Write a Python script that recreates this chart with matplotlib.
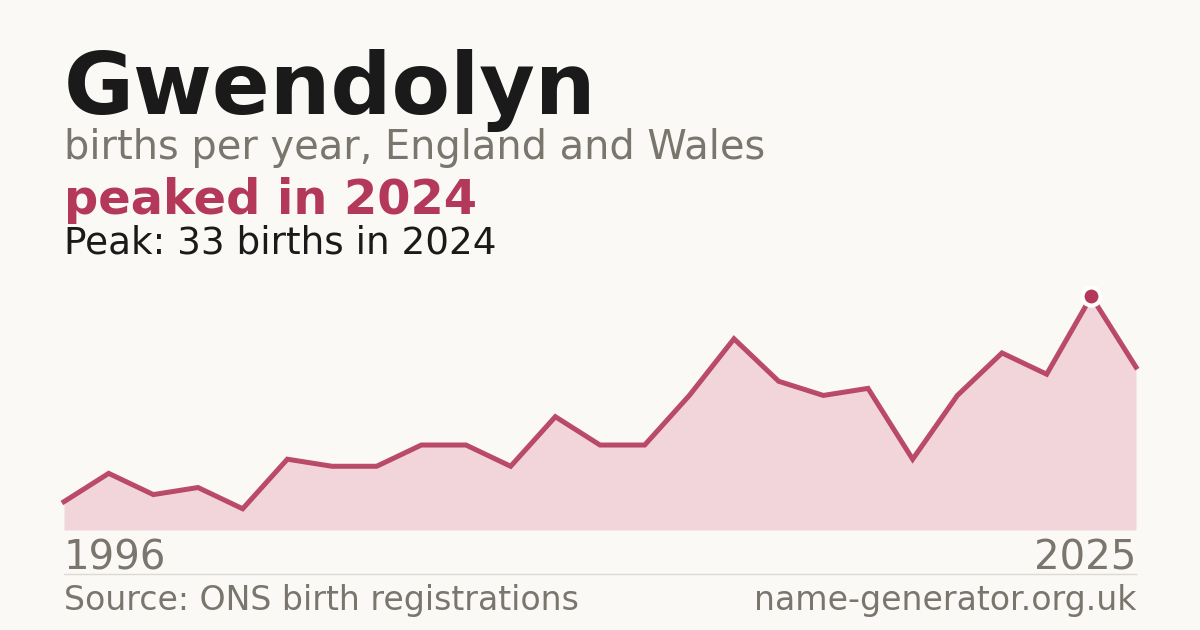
import matplotlib.pyplot as plt

# datos: nacimientos por año
births = [4, 8, 5, 6, 3, 10, 9, 9, 12, 12, 9, 16, 12, 12, 19, 27, 21, 19, 20, 10, 19, 25, 22, 33, 23]
year_labels = ["1996", "2025"]
peak_value = 33

bg = "#FAF9F5"
red = "#B3385A"
fill = "#F2D5DB"
grey = "#7A756D"
dark = "#1A1A1A"

fig = plt.figure(figsize=(12, 6.3), dpi=100)
fig.patch.set_facecolor(bg)

ax = fig.add_axes([64 / 1200, 100 / 630, 1072 / 1200, 250 / 630])
ax.set_facecolor(bg)
x = list(range(len(births)))
ax.fill_between(x, births, 0, color=fill, linewidth=0)
ax.plot(x, births, color=red, linewidth=3.6, alpha=0.9, solid_joinstyle="miter", clip_on=False)

peak_i = births.index(peak_value)
ax.plot(peak_i, births[peak_i], "o", color=red, markersize=13,
        markeredgecolor="white", markeredgewidth=3, clip_on=False, zorder=5)

ax.set_xlim(0, len(births) - 1)
ax.set_ylim(0, 35.3)
ax.axis("off")


def ytxt(px):
    return (630 - px) / 630


fig.text(64 / 1200, ytxt(114), "Gwendolyn", fontsize=61.5, fontweight="bold", color=dark, va="baseline")
fig.text(64 / 1200, ytxt(159), "births per year, England and Wales", fontsize=28.7, color=grey, va="baseline")
fig.text(64 / 1200, ytxt(214), "peaked in 2024", fontsize=34.5, fontweight="bold", color=red, va="baseline")
fig.text(64 / 1200, ytxt(253), "Peak: 33 births in 2024", fontsize=26.9, color=dark, va="baseline")

fig.text(64 / 1200, ytxt(570), year_labels[0], fontsize=29, color=grey, va="baseline")
fig.text(1136 / 1200, ytxt(570), year_labels[1], fontsize=29, color=grey, va="baseline", ha="right")

fig.add_artist(plt.Line2D([64 / 1200, 1136 / 1200], [ytxt(574), ytxt(574)], color="#DDDAD3", linewidth=1))

fig.text(64 / 1200, ytxt(610), "Source: ONS birth registrations", fontsize=23.9, color=grey, va="baseline")
fig.text(1136 / 1200, ytxt(610), "name-generator.org.uk", fontsize=23.9, color=grey, va="baseline", ha="right")

fig.savefig("out.png", dpi=100, facecolor=bg)
